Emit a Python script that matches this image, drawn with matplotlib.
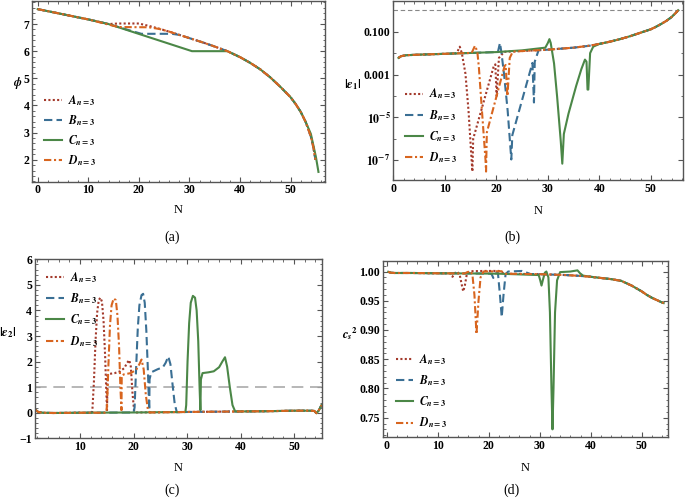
import matplotlib
matplotlib.use("Agg")
import matplotlib.pyplot as plt
from matplotlib.ticker import MultipleLocator, FixedLocator, FixedFormatter, NullFormatter

plt.rcParams["font.family"] = ["Liberation Serif", "DejaVu Serif"]
plt.rcParams["font.weight"] = "bold"
plt.rcParams["mathtext.fontset"] = "stix"

# ---- data ----
# (a) phi(N): common curve plus the stretches where each model departs from it
phi_N = [0, 5, 10, 14, 26, 28, 30, 33, 35, 37.5, 40, 42, 44, 46, 48, 50, 51, 52, 53, 54, 54.5, 54.9]
phi_base = [7.55, 7.36, 7.17, 7.0, 6.72, 6.6, 6.48, 6.3, 6.17, 6.0, 5.78, 5.57, 5.33, 5.03,
            4.68, 4.3, 4.05, 3.76, 3.38, 2.85, 2.45, 2.0]
phiA_N = [14, 16, 20, 22, 24, 26, 28]
phiA = [7.0, 7.02, 7.02, 6.93, 6.83, 6.72, 6.6]
phiB_N = [14, 17, 20.5, 26.5, 28]
phiB = [7.0, 6.83, 6.64, 6.64, 6.6]
phiC_N = [14, 30.5, 37.5]
phiC = [7.0, 6.0, 6.0]
phiC_tail_N = [54, 55, 55.5]
phiC_tail = [2.95, 2.1, 1.55]
phiD_N = [14, 16, 22, 24, 26, 28]
phiD = [6.98, 6.89, 6.88, 6.82, 6.72, 6.6]

# (b) |eps1|(N)
e1_N = [1, 1.5, 2.5, 5, 10, 12, 15, 20, 25, 30, 35, 38, 40, 42, 44, 46, 48, 50, 51, 52,
        53, 54, 54.7, 55.3]
e1_base = [0.006, 0.0072, 0.008, 0.0085, 0.0093, 0.0097, 0.0102, 0.0112, 0.0125, 0.0145,
           0.018, 0.022, 0.027, 0.034, 0.045, 0.062, 0.09, 0.13, 0.17, 0.23, 0.32, 0.48,
           0.7, 1.0]
e1A_N = [12.3, 12.9, 13.3, 14.0, 14.6, 15.2, 15.35, 15.5, 17.5, 19.5, 19.8, 20.05, 20.5, 21.5]
e1A = [0.0099, 0.02, 0.01, 1.1e-3, 2e-5, 1e-7, 3e-8, 1e-6, 5e-5, 2.5e-3, 3e-3, 1e-4, 6e-3, 0.0115]
e1B_N = [20.3, 20.7, 21.0, 21.5, 22.2, 22.9, 23.1, 27.0, 27.3, 27.45, 28.2]
e1B = [0.0112, 0.03, 0.01, 1e-3, 2e-5, 1.1e-7, 1.5e-6, 3.5e-3, 5e-5, 4e-3, 0.0138]
e1C_N = [20, 25, 29.5, 30.0, 30.3, 30.55, 31.2, 31.8, 32.5, 32.8, 33.1, 34.0, 35.5, 36.5,
         37.2, 37.5, 37.7, 37.85, 38.2, 38.8, 40]
e1C = [0.0112, 0.0135, 0.018, 0.03, 0.045, 0.03, 3.3e-3, 9e-5, 8e-7, 7e-8, 1.7e-6, 1.5e-5,
       3e-4, 1.8e-3, 5e-3, 4e-3, 2e-4, 2e-4, 0.01, 0.02, 0.027]
e1D_N = [15.2, 15.85, 16.3, 16.6, 17.2, 17.9, 18.0, 18.15, 21.6, 21.8, 22.15, 22.6, 23.2]
e1D = [0.0102, 0.022, 0.012, 2.3e-3, 2.1e-5, 1e-7, 3e-8, 2e-6, 2.5e-3, 2.8e-3, 1e-4, 6e-3, 0.0118]

# (c) |eps2|(N)
e2_N = [1.6, 2.2, 3, 5, 10, 20, 30, 40, 45, 50, 53, 53.8, 54.2, 54.6, 55.15]
e2_base = [0.12, 0.03, 0.0, -0.01, 0.0, 0.01, 0.03, 0.05, 0.06, 0.08, 0.08, 0.07, -0.02, 0.08, 0.3]
e2A_N = [12.0, 12.3, 12.6, 12.9, 13.2, 13.5, 13.8, 14.1, 14.4, 14.7, 14.9, 15.05, 15.15, 15.5,
         16.5, 17.5, 18.3, 18.8, 19.2, 19.5, 19.8, 20.1, 20.4]
e2A = [0.0, 0.05, 1.2, 2.8, 3.9, 4.4, 4.5, 4.35, 3.6, 2.2, 0.9, 0.1, 1.45, 1.52, 1.55, 1.62,
       1.75, 1.95, 2.06, 1.8, 0.8, 0.1, 0.01]
e2B_N = [20.0, 20.2, 20.5, 20.8, 21.1, 21.5, 21.8, 22.1, 22.4, 22.7, 22.9, 22.95, 23.0, 23.3,
         24.5, 25.5, 26.0, 26.5, 26.9, 27.3, 27.7, 28.1]
e2B = [0.01, 0.2, 1.8, 3.3, 4.2, 4.6, 4.65, 4.3, 3.2, 1.6, 0.3, 0.1, 1.3, 1.58, 1.7, 1.78,
       1.95, 2.2, 1.9, 1.1, 0.35, 0.02]
e2C_N = [29.7, 29.85, 30.1, 30.4, 30.7, 31.1, 31.5, 31.8, 32.1, 32.35, 32.5, 32.6, 32.9, 34.0,
         35.0, 36.0, 36.6, 37.1, 37.5, 38.0, 38.5, 39.0]
e2C = [0.03, 0.3, 2.0, 3.5, 4.3, 4.57, 4.5, 4.0, 2.8, 1.0, 0.1, 1.3, 1.55, 1.58, 1.62, 1.78,
       2.0, 2.17, 1.8, 1.0, 0.3, 0.05]
e2D_N = [14.9, 15.05, 15.3, 15.6, 15.9, 16.3, 16.7, 17.0, 17.3, 17.55, 17.75, 17.8, 18.2, 19.5,
         20.5, 21.1, 21.5, 21.9, 22.3, 22.7, 23.0]
e2D = [0.0, 0.3, 1.8, 3.4, 4.2, 4.47, 4.4, 3.8, 2.6, 1.0, 0.1, 1.45, 1.5, 1.55, 1.68, 1.9,
       2.08, 1.7, 0.7, 0.1, 0.01]

# (d) c_s^2(N)
cs_N = [0.3, 0.8, 1.5, 5, 10, 20, 30, 35, 38, 40, 42, 44, 46, 48, 50, 51, 52, 53, 54, 54.3]
cs_base = [0.9995, 0.998, 0.9975, 0.9975, 0.997, 0.9965, 0.9955, 0.994, 0.9925, 0.991, 0.989,
           0.987, 0.984, 0.976, 0.966, 0.96, 0.955, 0.951, 0.947, 0.946]
csA_N = [12.5, 12.9, 13.3, 13.8, 14.3, 14.7, 15.0, 15.3, 15.7, 16.3, 19, 22, 23]
csA = [0.9968, 0.991, 0.997, 1.0, 0.995, 0.978, 0.966, 0.975, 0.995, 1.0005, 1.001, 1.001, 0.9963]
csB_N = [20.3, 20.6, 20.9, 21.2, 21.8, 22.2, 22.55, 22.9, 23.3, 23.8, 26.5, 27.5, 28.2]
csB = [0.9964, 0.995, 0.989, 0.996, 0.998, 0.96, 0.922, 0.96, 0.995, 1.0, 1.001, 0.998, 0.9957]
csC_N = [22, 29.8, 30.1, 30.35, 30.6, 31.0, 31.3, 31.7, 32.0, 32.3, 32.5, 32.7, 33.0, 33.4,
         34.0, 36.0, 37.4, 37.9, 38.5]
csC = [0.9963, 0.994, 0.985, 0.976, 0.985, 0.998, 1.0, 0.99, 0.93, 0.8, 0.73, 0.8, 0.93, 0.985,
       0.999, 1.0, 1.002, 0.997, 0.993]
csD_N = [15.3, 15.8, 16.4, 16.8, 17.2, 17.6, 18.0, 18.4, 19.0, 22.5, 23.3]
csD = [0.9967, 0.999, 1.0005, 0.995, 0.96, 0.893, 0.95, 0.99, 1.0, 1.0005, 0.9962]

labels = [r"$A_{n=3}$", r"$B_{n=3}$", r"$C_{n=3}$", r"$D_{n=3}$"]
colors = ["#a3392b", "#3a6f94", "#4b8747", "#d8651f"]
dashes = [(0, (1, 1.1)), (0, (4, 2)), "-", (0, (3.5, 1.3, 1, 1.3))]


def splice(bn, bv, sn, sv):
    # model curve = common curve outside the segment, its own values inside
    n = [x for x in bn if x < sn[0]] + list(sn) + [x for x in bn if x > sn[-1]]
    v = ([y for x, y in zip(bn, bv) if x < sn[0]] + list(sv)
         + [y for x, y in zip(bn, bv) if x > sn[-1]])
    return n, v


def frame(ax):
    for s in ax.spines.values():
        s.set_color("#555555")
        s.set_linewidth(1.0)
    ax.tick_params(which="both", direction="in", top=True, right=True, labelsize=8.5,
                   color="#555555", pad=2)
    ax.tick_params(which="major", length=3.5, width=0.8)
    ax.tick_params(which="minor", length=1.8, width=0.6)


def draw(ax, curves, leg_xy, spacing):
    for (n, v), lab, c, ls in zip(curves, labels, colors, dashes):
        ax.plot(n, v, color=c, ls=ls, lw=1.5, label=lab)
    ax.legend(loc="upper left", bbox_to_anchor=leg_xy, frameon=False, fontsize=8.5,
              handlelength=1.5, handletextpad=0.5, labelspacing=spacing, borderpad=0,
              borderaxespad=0)
    frame(ax)


def bold_ticks(ax):
    for lab in ax.get_xticklabels() + ax.get_yticklabels():
        lab.set_fontweight("bold")


fig = plt.figure(figsize=(6.85, 5.03), dpi=100)

# (a)
ax = fig.add_axes([0.0472, 0.6388, 0.4273, 0.3598])
cA = splice(phi_N, phi_base, phiA_N, phiA)
cB = splice(phi_N, phi_base, phiB_N, phiB)
cC = splice(*splice(phi_N, phi_base, phiC_N, phiC), phiC_tail_N, phiC_tail)
cD = splice(phi_N, phi_base, phiD_N, phiD)
draw(ax, [cA, cB, cC, cD], (0.04, 0.49), 0.45)
ax.set_xlim(-1.06, 56.8)
ax.set_ylim(1.19, 7.86)
ax.xaxis.set_major_locator(MultipleLocator(10))
ax.xaxis.set_minor_locator(MultipleLocator(2))
ax.yaxis.set_major_locator(MultipleLocator(1))
ax.yaxis.set_minor_locator(MultipleLocator(0.2))
ax.set_xlabel("N", fontsize=9)
ax.set_ylabel(r"$\phi$", fontsize=8.5, rotation=0)
ax.xaxis.set_label_coords(0.498, -0.125)
ax.yaxis.set_label_coords(-0.05, 0.50)
bold_ticks(ax)

# (b)
ax = fig.add_axes([0.5742, 0.6421, 0.4234, 0.3569])
curves = [splice(e1_N, e1_base, e1A_N, e1A), splice(e1_N, e1_base, e1B_N, e1B),
          splice(e1_N, e1_base, e1C_N, e1C), splice(e1_N, e1_base, e1D_N, e1D)]
ax.axhline(1.0, color="#888888", lw=0.8, ls=(0, (4, 2.5)))
draw(ax, curves, (0.04, 0.52), 0.55)
ax.set_yscale("log")
ax.set_xlim(0, 56.3)
ax.set_ylim(1.21e-8, 2.85)
ax.xaxis.set_major_locator(MultipleLocator(10))
ax.xaxis.set_minor_locator(MultipleLocator(2))
ax.yaxis.set_major_locator(FixedLocator([1e-7, 1e-5, 1e-3, 1e-1]))
ax.yaxis.set_major_formatter(FixedFormatter([r"$\mathbf{10^{-7}}$", r"$\mathbf{10^{-5}}$",
                                             "0.001", "0.100"]))
ax.yaxis.set_minor_locator(FixedLocator([1e-8, 1e-6, 1e-4, 1e-2, 1]))
ax.yaxis.set_minor_formatter(NullFormatter())
ax.set_xlabel("N", fontsize=9)
ax.set_ylabel(r"$|\epsilon_1|$", fontsize=9, rotation=0)
ax.xaxis.set_label_coords(0.5, -0.14)
ax.yaxis.set_label_coords(-0.139, 0.49)
bold_ticks(ax)

# (c)
ax = fig.add_axes([0.0511, 0.1286, 0.4185, 0.3559])
curves = [splice(e2_N, e2_base, e2A_N, e2A), splice(e2_N, e2_base, e2B_N, e2B),
          splice(e2_N, e2_base, e2C_N, e2C), splice(e2_N, e2_base, e2D_N, e2D)]
ax.axhline(1.0, color="#aaaaaa", lw=1.2, ls=(0, (7, 4)))
draw(ax, curves, (0.04, 0.94), 0.55)
ax.set_xlim(1.59, 55.17)
ax.set_ylim(-1, 6)
ax.xaxis.set_major_locator(MultipleLocator(10))
ax.xaxis.set_minor_locator(MultipleLocator(2))
ax.yaxis.set_major_locator(MultipleLocator(1))
ax.yaxis.set_minor_locator(MultipleLocator(0.2))
ax.set_xlabel("N", fontsize=9)
ax.set_ylabel(r"$|\epsilon_2|$", fontsize=9, rotation=0)
ax.xaxis.set_label_coords(0.5, -0.131)
ax.yaxis.set_label_coords(-0.095, 0.55)
bold_ticks(ax)

# (d)
ax = fig.add_axes([0.5587, 0.1306, 0.4169, 0.3505])
curves = [splice(cs_N, cs_base, csA_N, csA), splice(cs_N, cs_base, csB_N, csB),
          splice(cs_N, cs_base, csC_N, csC), splice(cs_N, cs_base, csD_N, csD)]
draw(ax, curves, (0.045, 0.485), 0.55)
ax.set_xlim(-0.78, 55.2)
ax.set_ylim(0.7164, 1.018)
ax.xaxis.set_major_locator(MultipleLocator(10))
ax.xaxis.set_minor_locator(MultipleLocator(2))
ax.yaxis.set_major_locator(MultipleLocator(0.05))
ax.yaxis.set_minor_locator(MultipleLocator(0.01))
ax.yaxis.set_major_formatter(matplotlib.ticker.FormatStrFormatter("%.2f"))
ax.set_xlabel("N", fontsize=9)
ax.set_ylabel(r"$c_s{}^2$", fontsize=9, rotation=0)
ax.xaxis.set_label_coords(0.5, -0.138)
ax.yaxis.set_label_coords(-0.115, 0.54)
bold_ticks(ax)

for x, y, t in [(172, 237, "(a)"), (512, 237, "(b)"), (172, 490, "(c)"), (512, 490, "(d)")]:
    fig.text(x / 685, 1 - y / 503, t, ha="center", va="center", fontsize=10,
             fontweight="normal")

fig.savefig("out.png", dpi=100)
